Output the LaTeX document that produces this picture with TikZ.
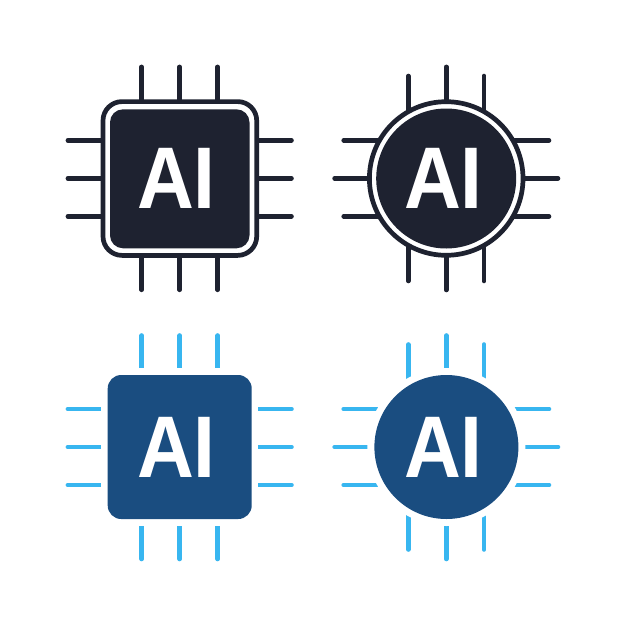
\documentclass[tikz,border=0pt]{standalone}
\usepackage{fontspec}
\setmainfont{Liberation Sans}[BoldFont={Liberation Sans Bold}]
\definecolor{darkc}{HTML}{1E2230}
\definecolor{bluec}{HTML}{1A4D80}
\definecolor{skyc}{HTML}{38B6F0}
\tikzset{x=1pt,y=-1pt,
 pin/.style={line width=4.6pt,line cap=round},
 ailabel/.style={text=white,anchor=base west,inner sep=0pt,outer sep=0pt,
   font=\fontsize{87.5}{88}\selectfont\bfseries}}
\newcommand{\AItext}{\scalebox{.90}[1]{AI}}
\begin{document}
\begin{tikzpicture}
\useasboundingbox[fill=white] (0,0) rectangle (626,626);
% top-left: square chip, outlined
\draw[pin,darkc] (141.7,66.9)--(141.7,105) (179.7,66.9)--(179.7,105) (217.7,66.9)--(217.7,105)
 (141.7,252)--(141.7,289.8) (179.7,252)--(179.7,289.8) (217.7,252)--(217.7,289.8)
 (67.9,140.3)--(105,140.3) (67.9,178.3)--(105,178.3) (67.9,216.3)--(105,216.3)
 (254,140.3)--(291.5,140.3) (254,178.3)--(291.5,178.3) (254,216.3)--(291.5,216.3);
\draw[darkc,line width=4.7pt,fill=white,rounded corners=19pt] (103,101.6) rectangle (256.7,255.4);
\fill[darkc,rounded corners=13pt] (110,109.3) rectangle (249.5,248.3);
\node[ailabel] (a) at (137,208.7) {\AItext};
% top-right: round chip, outlined
\draw[pin,darkc] (408.3,76)--(408.3,110) (446.2,66.9)--(446.2,110) (484,76)--(484,110)
 (408.3,247)--(408.3,281) (446.2,247)--(446.2,290) (484,247)--(484,281)
 (343.7,140.3)--(385,140.3) (334.6,178.3)--(385,178.3) (343.7,216.3)--(385,216.3)
 (507,140.3)--(549,140.3) (507,178.3)--(558,178.3) (507,216.3)--(549,216.3);
\draw[darkc,line width=4.7pt,fill=white] (446.2,178.5) circle (76.8);
\fill[darkc] (446.2,178.5) circle (70);
\node[ailabel] (b) at (404,208.7) {\AItext};
% bottom-left: square chip, filled
\draw[pin,skyc] (141.7,335.5)--(141.7,375) (179.7,335.5)--(179.7,375) (217.7,335.5)--(217.7,375)
 (141.7,520)--(141.7,559) (179.7,520)--(179.7,559) (217.7,520)--(217.7,559)
 (67.9,409)--(110,409) (67.9,447)--(110,447) (67.9,485)--(110,485)
 (250,409)--(291.5,409) (250,447)--(291.5,447) (250,485)--(291.5,485);
\fill[white] (101,368.3) rectangle (258.3,526);
\fill[bluec,rounded corners=13.5pt] (107.7,375) rectangle (251.7,519);
\node[ailabel] (c) at (137,477) {\AItext};
% bottom-right: round chip, filled
\draw[pin,skyc] (408.3,344.5)--(408.3,385) (446.2,335.5)--(446.2,385) (484,344.5)--(484,385)
 (408.3,510)--(408.3,549.5) (446.2,510)--(446.2,559) (484,510)--(484,549.5)
 (343.7,409)--(385,409) (334.6,447)--(385,447) (343.7,485)--(385,485)
 (507,409)--(549,409) (507,447)--(558,447) (507,485)--(549,485);
\fill[white] (446.4,447) circle (79);
\fill[bluec] (446.4,447) circle (72);
\node[ailabel] (d) at (404,477) {\AItext};
\end{tikzpicture}
\end{document}
